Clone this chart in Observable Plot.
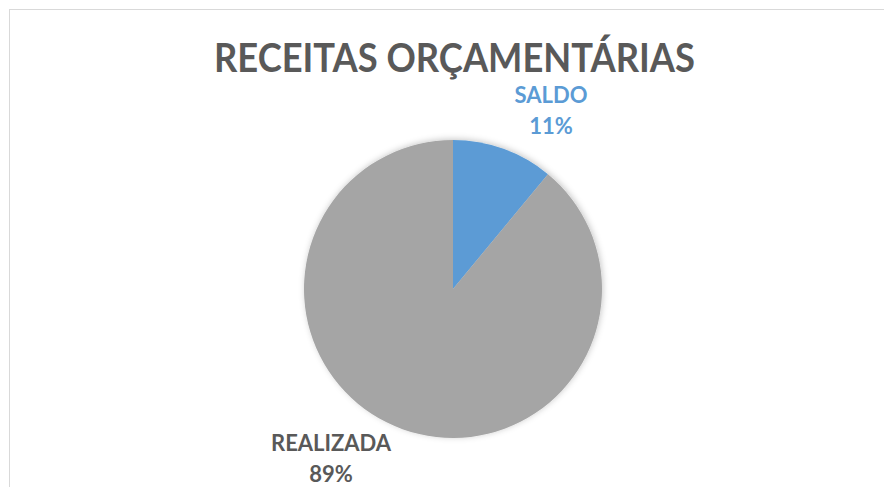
<!DOCTYPE html>
<html>
<head>
<meta charset="utf-8">
<script src="https://cdn.jsdelivr.net/npm/d3@7"></script>
<script src="https://cdn.jsdelivr.net/npm/@observablehq/plot@0.6"></script>
<style>
  html, body { margin: 0; padding: 0; background: #fff; overflow: hidden; }
  #wrap { position: relative; width: 884px; height: 487px; overflow: hidden; }
  #frame { position: absolute; left: 9px; top: 9px; width: 1000px; height: 1000px;
           border-left: 1.5px solid #d9d9d9; border-top: 1.5px solid #d9d9d9; box-sizing: border-box; }
  #title { position: absolute; left: 0; top: 0; }
  #chart { position: absolute; left: 0; top: 0; }
</style>
</head>
<body>
<div id="wrap">
  <div id="frame"></div>
  <div id="chart"></div>
  <svg id="title" width="884" height="100">
    <text x="454.5" y="72" text-anchor="middle" textLength="481" lengthAdjust="spacingAndGlyphs"
          font-family="Lato, 'Open Sans', sans-serif" font-weight="700" font-size="40" fill="#595959">RECEITAS ORÇAMENTÁRIAS</text>
  </svg>
</div>
<script>
// ---- data ----
const categories = ["SALDO", "REALIZADA"];
const values = [11, 89];
const sliceColors = ["#5B9BD5", "#A5A5A5"];
const labelColors = ["#5B9BD5", "#595959"];

// ---- layout ----
const W = 884, H = 487;
const CX = 453, CY = 289, R = 149;
const LABEL_R = 205;
const labelNudge = [[28, 12], [-53, -26]];

const data = categories.map((c, i) => ({category: c, value: values[i], color: sliceColors[i], labelColor: labelColors[i]}));
const total = d3.sum(values);
const arcs = d3.pie().sort(null).value(d => d.value)(data);

const labels = arcs.map((a, i) => {
  const mid = (a.startAngle + a.endAngle) / 2;
  return {
    x: CX + LABEL_R * Math.sin(mid) + labelNudge[i][0],
    y: CY - LABEL_R * Math.cos(mid) + labelNudge[i][1],
    text: a.data.category + "\n" + Math.round(a.data.value / total * 100) + "%",
    fill: a.data.labelColor
  };
});

function pieMark(index, scales) {
  const g = d3.create("svg:g");
  const cx = scales.x(CX), cy = scales.y(CY);
  const r = scales.x(CX + R) - cx;
  const arc = d3.arc().innerRadius(0).outerRadius(r);
  const defs = g.append("defs");
  const f = defs.append("filter").attr("id", "pieShadow").attr("x", "-20%").attr("y", "-20%").attr("width", "140%").attr("height", "140%");
  f.append("feDropShadow").attr("dx", 1).attr("dy", -1).attr("stdDeviation", 3).attr("flood-color", "#000").attr("flood-opacity", 0.22);
  g.append("g")
    .attr("transform", `translate(${cx},${cy})`)
    .attr("filter", "url(#pieShadow)")
    .selectAll("path")
    .data(arcs)
    .join("path")
    .attr("d", arc)
    .attr("fill", d => d.data.color);
  return g.node();
}

const plot = Plot.plot({
  width: W,
  height: H,
  margin: 0,
  x: {domain: [0, W], range: [0, W], axis: null},
  y: {domain: [0, H], range: [0, H], axis: null},
  color: {type: "identity"},
  style: {background: "transparent", overflow: "visible"},
  marks: [
    pieMark,
    Plot.text(labels, {
      x: "x", y: "y", text: "text", fill: "fill",
      fontSize: 22, fontWeight: 700, lineHeight: 1.42,
      fontFamily: "Lato, 'Open Sans', sans-serif",
      textAnchor: "middle", lineAnchor: "middle"
    })
  ]
});
document.getElementById("chart").appendChild(plot);
</script>
</body>
</html>
